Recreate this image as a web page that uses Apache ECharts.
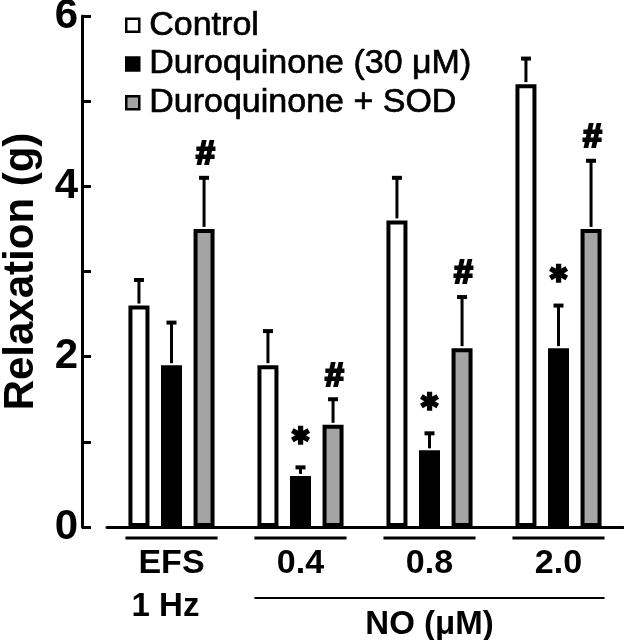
<!DOCTYPE html>
<html>
<head>
<meta charset="utf-8">
<script src="https://cdn.jsdelivr.net/npm/echarts@6/dist/echarts.min.js"></script>
<style>
  html, body { margin: 0; padding: 0; background: #fff; }
  #chart { width: 624px; height: 640px; }
</style>
</head>
<body>
<div id="chart"></div>
<script>
// ---- data ----
const categories = ['EFS', '0.4', '0.8', '2.0'];
const seriesNames = ['Control', 'Duroquinone (30 \u03bcM)', 'Duroquinone + SOD'];
const controlMean = [2.6, 1.9, 3.6, 5.2];
const controlErr  = [0.3, 0.4, 0.5, 0.3];
const duroMean    = [1.9, 0.6, 0.9, 2.1];
const duroErr     = [0.5, 0.1, 0.2, 0.5];
const sodMean     = [3.5, 1.2, 2.1, 3.5];
const sodErr      = [0.6, 0.3, 0.6, 0.8];
const controlMarks = ['', '', '', ''];
const duroMarks    = ['', '*', '*', '*'];
const sodMarks     = ['#', '#', '#', '#'];
const yTickLabels  = ['0', '', '2', '', '4', '', '6'];
const groupLabels  = [
  { text: '1 Hz', from: 0, to: 0, line: false },
  { text: 'NO (\u03bcM)', from: 1, to: 3, line: true }
];

// ---- style ----
const FONT = '"Liberation Sans", Arial, Helvetica, sans-serif';
const BAR_W = 21;
const BAR_GAP = 0.55;
const BORDER = 4;
const PITCH = BAR_W * (1 + BAR_GAP);
const fills = ['#ffffff', '#000000', '#a4a4a4'];

const means = [controlMean, duroMean, sodMean];
const errs = [controlErr, duroErr, sodErr];
const marks = [controlMarks, duroMarks, sodMarks];

function barSeries(k) {
  return {
    type: 'bar',
    name: seriesNames[k],
    data: means[k],
    barWidth: BAR_W,
    barGap: (BAR_GAP * 100) + '%',
    itemStyle: { color: fills[k], borderColor: '#000', borderWidth: BORDER },
    emphasis: { disabled: true },
    z: 3
  };
}

function errorSeries(k) {
  return {
    type: 'custom',
    name: 'err' + k,
    z: 4,
    silent: true,
    data: means[k].map((m, i) => [i, m, m + errs[k][i]]),
    encode: { x: 0, y: [1, 2] },
    renderItem(params, api) {
      const i = api.value(0);
      const base = api.coord([i, api.value(1)]);
      const top = api.coord([i, api.value(2)]);
      const x = base[0] + (k - 1) * PITCH;
      const children = [
        { type: 'line', shape: { x1: x, y1: base[1] - BORDER / 2, x2: x, y2: top[1] },
          style: { stroke: '#000', lineWidth: 3 } },
        { type: 'line', shape: { x1: x - 5, y1: top[1], x2: x + 5, y2: top[1] },
          style: { stroke: '#000', lineWidth: 4 } }
      ];
      const m = marks[k][params.dataIndex];
      if (m === '*') {
        children.push({ type: 'text', x: x, y: top[1] - 30,
          style: { text: '\u2731', font: 'bold 24px "DejaVu Sans"', fill: '#000',
                   stroke: '#000', lineWidth: 1.5,
                   align: 'center', verticalAlign: 'middle' } });
      } else if (m === '#') {
        children.push({ type: 'text', x: x + 1, y: top[1] - 23,
          style: { text: '#', font: 'italic bold 34px ' + FONT, fill: '#000',
                   stroke: '#000', lineWidth: 2.2,
                   align: 'center', verticalAlign: 'middle' } });
      }
      return { type: 'group', children };
    }
  };
}

const underlineSeries = {
  type: 'custom',
  name: 'underline',
  silent: true,
  data: categories.map((c, i) => [i, 0]),
  encode: { x: 0, y: 1 },
  renderItem(params, api) {
    const p = api.coord([api.value(0), 0]);
    const half = PITCH + BAR_W / 2 + BORDER / 2 + 1;
    return { type: 'line', shape: { x1: p[0] - half, y1: p[1] + 11, x2: p[0] + half, y2: p[1] + 11 },
             style: { stroke: '#000', lineWidth: 3 } };
  }
};

const groupSeries = {
  type: 'custom',
  name: 'groups',
  silent: true,
  data: groupLabels.map(g => [g.from, g.to, 0]),
  encode: { x: [0, 1], y: 2 },
  renderItem(params, api) {
    const g = groupLabels[params.dataIndex];
    const a = api.coord([api.value(0), 0]);
    const b = api.coord([api.value(1), 0]);
    const half = PITCH + BAR_W / 2 + BORDER / 2 + 1;
    const cx = (a[0] + b[0]) / 2;
    const children = [];
    if (g.line) {
      children.push({ type: 'line', shape: { x1: a[0] - half, y1: a[1] + 71, x2: b[0] + half, y2: a[1] + 71 },
                      style: { stroke: '#000', lineWidth: 2 } });
    }
    children.push({ type: 'text', x: g.line ? cx : cx - 6, y: a[1] + (g.line ? 98 : 80),
      style: { text: g.text, font: 'bold 33px ' + FONT, fill: '#000', align: 'center', verticalAlign: 'middle' } });
    return { type: 'group', children };
  }
};

const chart = echarts.init(document.getElementById('chart'), null, { renderer: 'canvas' });
chart.setOption({
  animation: false,
  backgroundColor: '#fff',
  grid: { left: 107, right: 1, top: 16, bottom: 113, containLabel: false, outerBoundsMode: 'none' },
  legend: {
    data: seriesNames,
    orient: 'vertical',
    left: 120,
    top: 3,
    icon: 'rect',
    itemWidth: 13,
    itemHeight: 13,
    itemGap: 4,
    selectedMode: false,
    itemStyle: { borderWidth: 2.5, borderColor: '#000' },
    textStyle: { fontFamily: FONT, fontSize: 34, color: '#000', lineHeight: 32,
                 textBorderColor: '#000', textBorderWidth: 0.7, padding: [0, 0, 0, 5] }
  },
  xAxis: {
    type: 'category',
    data: categories,
    axisLine: { lineStyle: { color: '#000', width: 3 } },
    axisTick: { show: false },
    axisLabel: { color: '#000', fontFamily: FONT, fontWeight: 'bold', fontSize: 34, margin: 20 }
  },
  yAxis: {
    type: 'value',
    min: 0, max: 6, interval: 1,
    offset: 25,
    name: 'Relaxation (g)',
    nameLocation: 'middle',
    nameGap: 40,
    nameTextStyle: { color: '#000', fontFamily: FONT, fontWeight: 'bold', fontSize: 42 },
    axisLine: { show: true, lineStyle: { color: '#000', width: 3 } },
    axisTick: { show: true, inside: true, length: 9, lineStyle: { color: '#000', width: 3 } },
    axisLabel: { color: '#000', fontFamily: FONT, fontWeight: 'bold', fontSize: 42, margin: 4,
                 formatter: (v, idx) => yTickLabels[idx] },
    splitLine: { show: false }
  },
  series: [
    barSeries(0), barSeries(1), barSeries(2),
    errorSeries(0), errorSeries(1), errorSeries(2),
    underlineSeries, groupSeries
  ]
});
</script>
</body>
</html>
